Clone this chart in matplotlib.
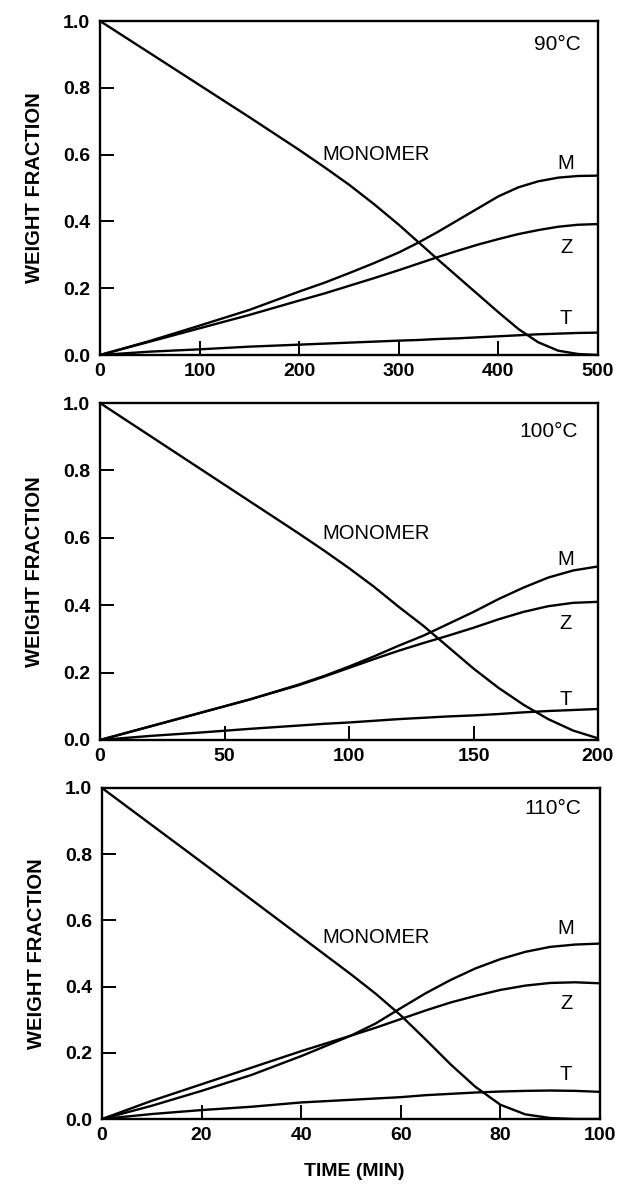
import matplotlib.pyplot as plt

plt.rcParams['font.family'] = ['Liberation Sans', 'DejaVu Sans']

# 90 C panel
t_90 = [0, 50, 100, 150, 200, 225, 250, 275, 300, 320, 340, 360, 380, 400, 420, 440, 460, 480, 500]
mono_90 = [1.0, 0.904, 0.808, 0.712, 0.614, 0.563, 0.51, 0.452, 0.39, 0.337, 0.284, 0.232, 0.18, 0.128, 0.078, 0.038, 0.013, 0.003, 0.0]
m_90 = [0, 0.042, 0.088, 0.135, 0.19, 0.216, 0.245, 0.275, 0.307, 0.337, 0.37, 0.405, 0.44, 0.475, 0.502, 0.52, 0.531, 0.536, 0.537]
z_90 = [0, 0.04, 0.08, 0.12, 0.163, 0.184, 0.207, 0.23, 0.254, 0.274, 0.294, 0.313, 0.331, 0.347, 0.362, 0.374, 0.384, 0.39, 0.392]
tt_90 = [0, 0.01, 0.017, 0.025, 0.031, 0.034, 0.037, 0.04, 0.043, 0.045, 0.048, 0.05, 0.053, 0.056, 0.059, 0.062, 0.064, 0.066, 0.067]

# 100 C panel
t_100 = [0, 20, 40, 60, 80, 90, 100, 110, 120, 130, 140, 150, 160, 170, 180, 190, 200]
mono_100 = [1.0, 0.903, 0.806, 0.709, 0.612, 0.562, 0.51, 0.455, 0.395, 0.338, 0.275, 0.212, 0.155, 0.105, 0.062, 0.028, 0.005]
m_100 = [0, 0.04, 0.08, 0.12, 0.165, 0.19, 0.218, 0.248, 0.28, 0.31, 0.345, 0.38, 0.418, 0.452, 0.482, 0.503, 0.515]
z_100 = [0, 0.04, 0.08, 0.12, 0.163, 0.188, 0.214, 0.24, 0.265, 0.288, 0.31, 0.333, 0.358, 0.38, 0.397, 0.407, 0.41]
tt_100 = [0, 0.012, 0.022, 0.033, 0.043, 0.048, 0.052, 0.057, 0.062, 0.066, 0.07, 0.073, 0.077, 0.082, 0.086, 0.089, 0.092]

# 110 C panel
t_110 = [0, 10, 20, 30, 40, 50, 55, 60, 65, 70, 75, 80, 85, 90, 95, 100]
mono_110 = [1.0, 0.888, 0.776, 0.663, 0.55, 0.437, 0.378, 0.313, 0.24, 0.165, 0.097, 0.043, 0.014, 0.003, 0.0, 0.0]
m_110 = [0, 0.04, 0.085, 0.133, 0.19, 0.252, 0.289, 0.335, 0.38, 0.42, 0.455, 0.483, 0.505, 0.52, 0.527, 0.53]
z_110 = [0, 0.055, 0.105, 0.155, 0.205, 0.252, 0.276, 0.302, 0.328, 0.352, 0.372, 0.39, 0.403, 0.411, 0.413, 0.41]
tt_110 = [0, 0.015, 0.027, 0.037, 0.05, 0.058, 0.062, 0.066, 0.072, 0.076, 0.08, 0.083, 0.085, 0.086, 0.085, 0.082]

panels = [
    dict(t=t_90, series=[mono_90, m_90, z_90, tt_90], xmax=500, xticks=[0, 100, 200, 300, 400, 500],
         temp='90°C', temp_pos=(459, 0.93), mono_pos=(277, 0.60),
         mzt_x=468, mzt_y=[0.573, 0.323, 0.11]),
    dict(t=t_100, series=[mono_100, m_100, z_100, tt_100], xmax=200, xticks=[0, 50, 100, 150, 200],
         temp='100°C', temp_pos=(180, 0.915), mono_pos=(111, 0.614),
         mzt_x=187, mzt_y=[0.537, 0.347, 0.119]),
    dict(t=t_110, series=[mono_110, m_110, z_110, tt_110], xmax=100, xticks=[0, 20, 40, 60, 80, 100],
         temp='110°C', temp_pos=(90.5, 0.937), mono_pos=(55, 0.549),
         mzt_x=93.2, mzt_y=[0.577, 0.35, 0.133]),
]

fig = plt.figure(figsize=(6.21, 11.96), dpi=100)
W, H = 621, 1196
boxes = [(100, 21, 598, 355), (100, 403, 598, 740), (102, 788, 600, 1119)]

for p, (x0, y0, x1, y1) in zip(panels, boxes):
    ax = fig.add_axes([x0 / W, 1 - y1 / H, (x1 - x0) / W, (y1 - y0) / H])
    for s in p['series']:
        ax.plot(p['t'], s, color='black', lw=1.7, solid_capstyle='round')
    ax.set_xlim(0, p['xmax'])
    ax.set_ylim(0, 1.0)
    ax.set_xticks(p['xticks'])
    ax.set_yticks([0, 0.2, 0.4, 0.6, 0.8, 1.0])
    ax.set_yticklabels(['0.0', '0.2', '0.4', '0.6', '0.8', '1.0'])
    ax.tick_params(axis='x', direction='in', length=10, width=1.4, pad=6, labelsize=14)
    ax.tick_params(axis='y', direction='in', length=10, width=1.4, pad=7, labelsize=14)
    for lab in ax.get_xticklabels() + ax.get_yticklabels():
        lab.set_fontweight('bold')
    for sp in ax.spines.values():
        sp.set_linewidth(1.7)
    ax.set_ylabel('WEIGHT FRACTION', fontsize=14.5, fontweight='bold', labelpad=14)

    # curve labels and temperature
    ax.text(p['temp_pos'][0], p['temp_pos'][1], p['temp'], fontsize=15,
            ha='center', va='center')
    ax.text(p['mono_pos'][0], p['mono_pos'][1], 'MONOMER', fontsize=14.5,
            ha='center', va='center')
    for name, yv in zip(['M', 'Z', 'T'], p['mzt_y']):
        ax.text(p['mzt_x'], yv, name, fontsize=14.5, ha='center', va='center')

fig.text(354 / W, 1 - 1172 / H, 'TIME (MIN)', fontsize=14, fontweight='bold',
         ha='center', va='center')

fig.savefig('out.png', dpi=100)
